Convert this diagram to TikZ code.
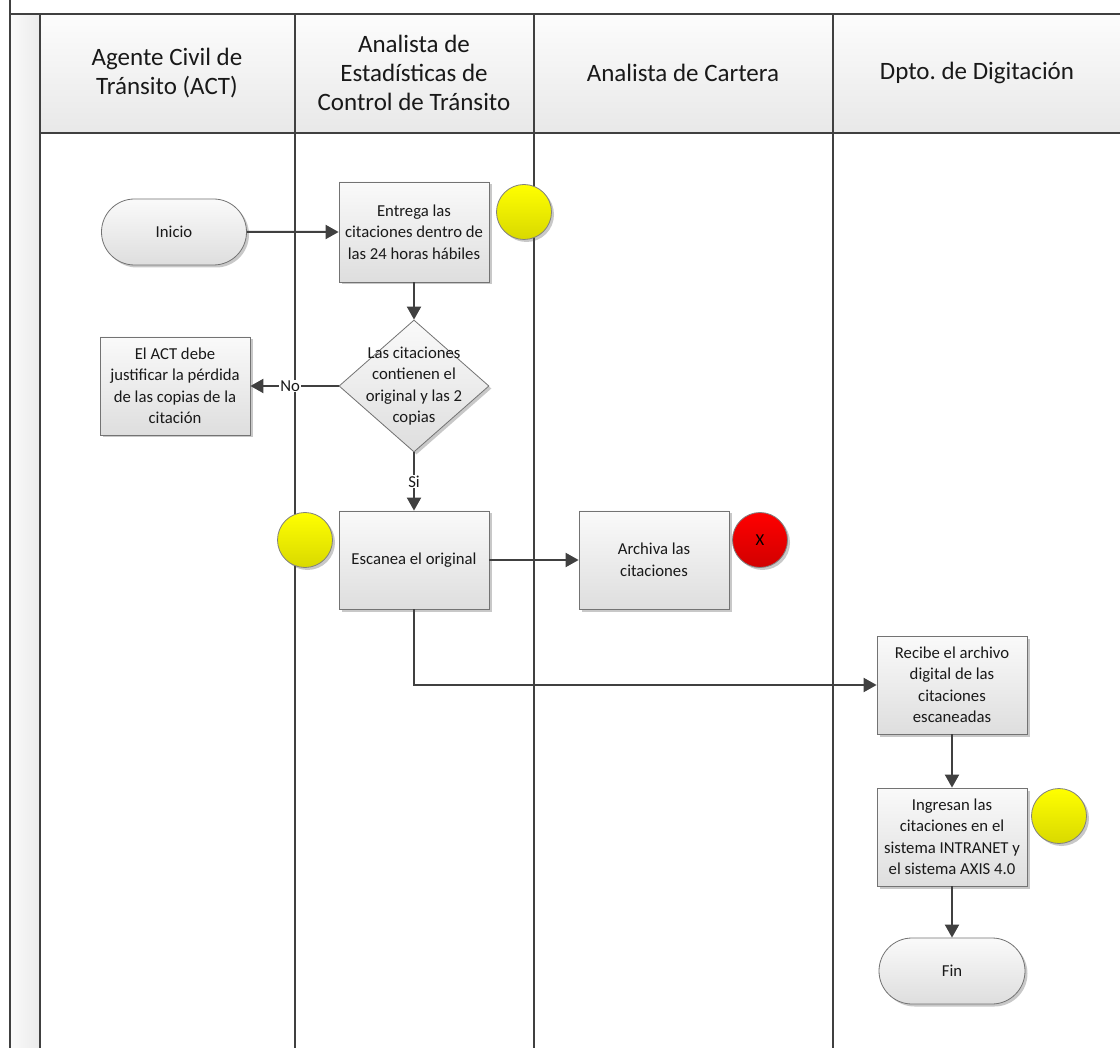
\documentclass[tikz,border=0pt]{standalone}
\usepackage{fontspec}
\setmainfont{Carlito}
\usetikzlibrary{arrows.meta,shapes.geometric,shapes.misc,shadows}
\frenchspacing
\begin{document}
\begin{tikzpicture}[x=1pt,y=-1pt,
  lane/.style={draw=black!75,line width=1.6pt},
  hdr/.style={align=center,font=\fontsize{25}{29}\selectfont,text=black!90},
  shad/.style={drop shadow={shadow xshift=2.5pt,shadow yshift=-2.5pt,opacity=.3,fill=black!70}},
  box/.style={draw=black!55,line width=0.8pt,top color=white!98!black,bottom color=white!87!black,
    minimum width=150pt,minimum height=98pt,inner sep=2pt,align=center,
    font=\fontsize{16.7}{21.5}\selectfont,text=black!90,shad},
  term/.style={box,rounded rectangle,minimum height=66pt},
  dia/.style={diamond,draw=black!55,line width=0.8pt,top color=white!98!black,bottom color=white!87!black,
    minimum width=150pt,minimum height=132pt,inner sep=0pt,shad},
  ycirc/.style={circle,draw=black!50,line width=0.8pt,minimum size=55pt,inner sep=0pt,
    top color=yellow,bottom color=yellow!85!black,shad},
  rcirc/.style={circle,draw=black!50,line width=0.8pt,minimum size=55pt,inner sep=0pt,
    top color=red,bottom color=red!82!black,shad,font=\fontsize{16.7}{20}\selectfont},
  conn/.style={draw=black!75,line width=2pt,-{Triangle[length=13pt,width=14pt]}},
  lbl/.style={fill=white,inner sep=1pt,font=\fontsize{16.7}{20}\selectfont,text=black!90}
]
\useasboundingbox (0,0) rectangle (1120,1048);
\fill[white] (0,0) rectangle (1120,1048);
% pool strip and header
\shade[left color=white!98!black,right color=white!92!black] (10,14) rectangle (40,1048);
\shade[top color=white!99!black,bottom color=white!91!black] (40,14) rectangle (1120,133);
\draw[lane] (10,0) -- (10,1048);
\draw[lane] (10,14) -- (1120,14);
\draw[lane] (40,14) -- (40,1048);
\draw[lane] (40,133) -- (1120,133);
\draw[lane] (295,14) -- (295,1048);
\draw[lane] (534,14) -- (534,1048);
\draw[lane] (833,14) -- (833,1048);

\node[hdr] (h1) at (167,73) {Agente Civil de\\Tránsito (ACT)};
\node[hdr] (h2) at (414,73) {Analista de\\Estadísticas de\\Control de Tránsito};
\node[hdr] (h3) at (683,73) {Analista de Cartera};
\node[hdr] (h4) at (977,73) {Dpto. de Digitación};

% nodes
\node[term,minimum width=149pt] (inicio) at (174,232) {Inicio};
\node[box,minimum height=100pt] (entrega) at (414,232) {Entrega las\\citaciones dentro de\\las 24 horas hábiles};
\node[dia,label={[align=center,font=\fontsize{16.7}{21.5}\selectfont,text=black!90]center:{Las citaciones\\contienen el\\original y las 2\\copias}}] (dec) at (414,386) {};
\node[box] (act) at (175,386) {El ACT debe\\justificar la pérdida\\de las copias de la\\citación};
\node[box] (escanea) at (414,560) {Escanea el original};
\node[box] (archiva) at (654,560) {Archiva las\\citaciones};
\node[box] (recibe) at (952,685) {Recibe el archivo\\digital de las\\citaciones\\escaneadas};
\node[box] (ingresan) at (952,837) {Ingresan las\\citaciones en el\\sistema INTRANET y\\el sistema AXIS 4.0};
\node[term] (fin) at (952,971) {Fin};

\node[ycirc] (c1) at (524,212) {};
\node[ycirc] (c2) at (305,540) {};
\node[rcirc] (c3) at (760,540) {X};
\node[ycirc] (c4) at (1059,816) {};

% connectors
\draw[conn] (inicio) -- (entrega);
\draw[conn] (entrega) -- (dec);
\draw[conn] (dec.west) -- node[lbl,pos=0.55]{No} (act.east);
\draw[conn] (dec.south) -- node[lbl,pos=0.5]{Si} (escanea.north);
\draw[conn] (escanea) -- (archiva);
\draw[conn] (escanea.south) |- (recibe.west);
\draw[conn] (recibe) -- (ingresan);
\draw[conn] (ingresan) -- (fin);
\end{tikzpicture}
\end{document}
